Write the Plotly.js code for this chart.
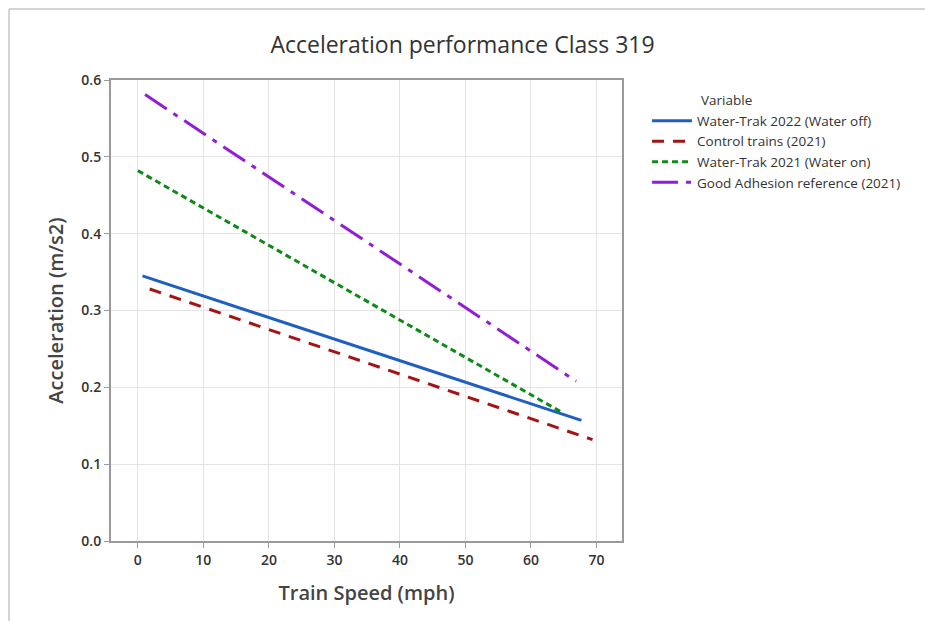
<!DOCTYPE html>
<html>
<head>
<meta charset="utf-8">
<script src="https://cdn.plot.ly/plotly-3.0.1.min.js"></script>
<style>html,body{margin:0;padding:0;background:#fff;}#chart{width:925px;height:621px;}</style>
</head>
<body>
<div id="chart"></div>
<script>
const seriesNames = ["Water-Trak 2022 (Water off)", "Control trains (2021)", "Water-Trak 2021 (Water on)", "Good Adhesion reference (2021)"];
const speedWaterOff = [0.7, 67.7];
const accelWaterOff = [0.345, 0.157];
const speedControl = [1.8, 69.4];
const accelControl = [0.328, 0.132];
const speedWaterOn = [0.0, 64.6];
const accelWaterOn = [0.482, 0.168];
const speedGoodAdh = [1.1, 66.9];
const accelGoodAdh = [0.581, 0.208];
const xTicks = [0, 10, 20, 30, 40, 50, 60, 70];
const yTicks = [0.0, 0.1, 0.2, 0.3, 0.4, 0.5, 0.6];

const font = "Open Sans, Noto Sans, sans-serif";
const traces = [
  {x: speedWaterOff, y: accelWaterOff, name: seriesNames[0], mode: "lines", line: {color: "#1f5fbf", width: 3, dash: "solid"}},
  {x: speedControl, y: accelControl, name: seriesNames[1], mode: "lines", line: {color: "#a31515", width: 3, dash: "12px,9px"}},
  {x: speedWaterOn, y: accelWaterOn, name: seriesNames[2], mode: "lines", line: {color: "#0e8a16", width: 3, dash: "6px,4px"}},
  {x: speedGoodAdh, y: accelGoodAdh, name: seriesNames[3], mode: "lines", line: {color: "#8f1ed6", width: 3, dash: "26px,8px,5px,8px"}}
];
const axisCommon = {
  showgrid: true, gridcolor: "#e4e4e4", gridwidth: 1,
  showline: true, linecolor: "#9a9a9a", linewidth: 2, mirror: true,
  ticks: "outside", ticklen: 5, tickcolor: "#9a9a9a", tickwidth: 1,
  zeroline: false,
  tickfont: {family: font, size: 14, color: "#333", weight: 600}
};
const layout = {
  width: 925, height: 621,
  paper_bgcolor: "#fff", plot_bgcolor: "#fff",
  margin: {l: 111, r: 303, t: 80, b: 80},
  title: {text: "Acceleration performance Class 319", x: 0.5, xref: "container", y: 0.928, yref: "container", yanchor: "middle", font: {family: font, size: 23, color: "#333", weight: 500}},
  xaxis: Object.assign({}, axisCommon, {range: [-4.1, 73.9], tickvals: xTicks, ticktext: xTicks.map(String),
    title: {text: "Train Speed (mph)", standoff: 18, font: {family: font, size: 20, color: "#444", weight: 600}}}),
  yaxis: Object.assign({}, axisCommon, {range: [0, 0.6], tickvals: yTicks, ticktext: yTicks.map(v => v.toFixed(1)),
    title: {text: "Acceleration (m/s2)", standoff: 12, font: {family: font, size: 20, color: "#444", weight: 600}}}),
  showlegend: true,
  legend: {x: 1.049, y: 0.945, xanchor: "left", yanchor: "top", bgcolor: "rgba(0,0,0,0)",
    font: {family: font, size: 13.5, color: "#333"}, tracegroupgap: 0, itemwidth: 40},
  annotations: [{text: "Variable", xref: "paper", yref: "paper", x: 1.1507, y: 0.957, xanchor: "left", yanchor: "middle", showarrow: false, font: {family: font, size: 13.5, color: "#333"}}],
  shapes: [
    {type: "line", xref: "paper", yref: "paper", x0: -0.1996, x1: 1.593, y0: 1.154, y1: 1.154, line: {color: "#d4d4d4", width: 2}},
    {type: "line", xref: "paper", yref: "paper", x0: -0.1996, x1: -0.1996, y0: 1.154, y1: -0.18, line: {color: "#d4d4d4", width: 2}}
  ]
};
Plotly.newPlot("chart", traces, layout, {displayModeBar: false, staticPlot: true});
</script>
</body>
</html>
